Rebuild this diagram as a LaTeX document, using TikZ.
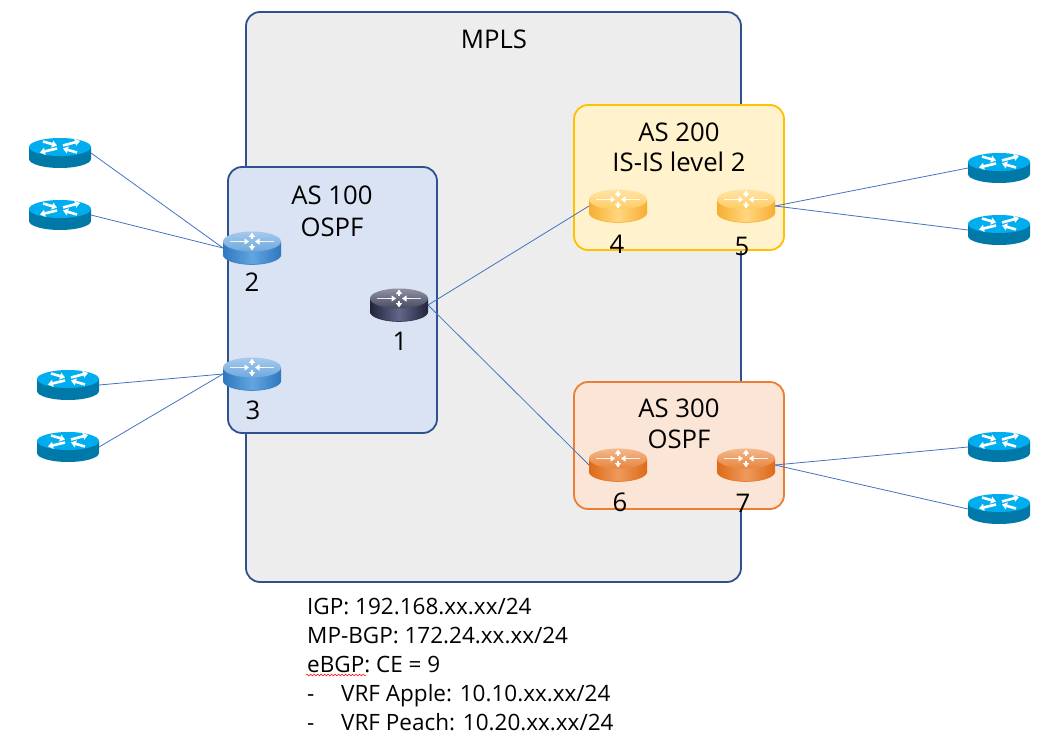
\documentclass[tikz,border=0pt]{standalone}
\usepackage{fontspec}
\setmainfont{Open Sans}
\usetikzlibrary{arrows.meta,decorations.pathmorphing}
\definecolor{frameblue}{HTML}{2F528F}
\definecolor{linkblue}{HTML}{4472C4}
\definecolor{mplsfill}{HTML}{EDEDED}
\definecolor{as100fill}{HTML}{DAE3F3}
\definecolor{as200fill}{HTML}{FFF2CC}
\definecolor{as200line}{HTML}{FFC000}
\definecolor{as300fill}{HTML}{FBE5D6}
\definecolor{as300line}{HTML}{ED7D31}
\definecolor{ceside}{HTML}{0079A8}
\definecolor{cetop}{HTML}{00AEEF}
\definecolor{bluedark}{HTML}{2F78BE}
\definecolor{bluemid}{HTML}{62A5E0}
\definecolor{bluetop}{HTML}{6FA9DE}
\definecolor{bluelight}{HTML}{A5CAEC}
\definecolor{yeldark}{HTML}{F7AE30}
\definecolor{yelmid}{HTML}{FFD780}
\definecolor{yeltop}{HTML}{FFCB60}
\definecolor{yellight}{HTML}{FFE4A6}
\definecolor{ordark}{HTML}{DE6A18}
\definecolor{ormid}{HTML}{EE9A5C}
\definecolor{ortop}{HTML}{E9843C}
\definecolor{orlight}{HTML}{F3B88E}
\definecolor{dkdark}{HTML}{23243A}
\definecolor{dkmid}{HTML}{63658A}
\definecolor{dktop}{HTML}{464960}
\definecolor{dklight}{HTML}{8F91A3}
\tikzset{
  area/.style={rounded corners=14pt,line width=1.8pt,inner sep=0pt,outer sep=0pt},
  link/.style={draw=linkblue,line width=0.8pt},
  label/.style={inner sep=0pt,font=\fontsize{25.7}{30}\selectfont,text=black},
  listline/.style={inner sep=0pt,anchor=base west,font=\fontsize{22.5}{27}\selectfont,text=black},
  routerbox/.style={minimum width=58pt,minimum height=33pt,inner sep=0pt,outer sep=0pt},
  cebox/.style={minimum width=62pt,minimum height=30pt,inner sep=0pt,outer sep=0pt},
  glyph/.style={draw=white,line width=1.3pt,-{Triangle[length=4.5pt,width=6pt]}},
  ceglyph/.style={draw=white,line width=2.6pt,-{Triangle[length=5pt,width=7pt]}},
}
% name, x, y, dark side, mid side, top colour, light top colour
\newcommand{\routersym}[7]{%
  \node[routerbox] (#1) at (#2,#3) {};
  \begin{scope}[shift={(#2,#3)}]
    \shade[left color=#4,right color=#4,middle color=#5]
      (-29,-6.5) -- (-29,6.5) arc[start angle=180,end angle=360,x radius=29pt,y radius=10pt] -- (29,-6.5) -- cycle;
    \shade[top color=#7,bottom color=#6] (0,-6.5) ellipse[x radius=29pt,y radius=10pt];
    \draw[white,line width=0.8pt,opacity=.85] (-22,-6.5) -- (-9,-6.5) (9,-6.5) -- (22,-6.5);
    \draw[glyph] (-12,-6.5) -- (-3,-6.5);
    \draw[glyph] (12,-6.5) -- (3,-6.5);
    \draw[glyph] (0,-9) -- (0,-15.5);
    \draw[glyph] (0,-4) -- (0,2.5);
    \draw[#4,line width=0.6pt,opacity=.8] (-29,6.5) arc[start angle=180,end angle=360,x radius=29pt,y radius=10pt];
  \end{scope}}
\newcommand{\cesym}[3]{%
  \node[cebox] (#1) at (#2,#3) {};
  \begin{scope}[shift={(#2,#3)}]
    \fill[ceside]
      (-31,-6) -- (-31,6) arc[start angle=180,end angle=360,x radius=31pt,y radius=9pt] -- (31,-6) -- cycle;
    \fill[cetop] (0,-6) ellipse[x radius=31pt,y radius=9pt];
    \draw[ceglyph] (-17,-11.5) -- (-3,-7.5);
    \draw[ceglyph] (3,-7.5) -- (20,-12);
    \draw[ceglyph] (-3,-4.5) -- (-20,-0.5);
    \draw[ceglyph] (17,-0.5) -- (3,-4.5);
  \end{scope}}
\begin{document}
\begin{tikzpicture}[x=1pt,y=-1pt]
\useasboundingbox (0,0) rectangle (1051,741);
% areas
\node[area,draw=frameblue,fill=mplsfill,minimum width=495pt,minimum height=570pt] (mplsbox) at (493.5,297) {};
\node[area,draw=frameblue,fill=as100fill,minimum width=209pt,minimum height=266pt] (as100box) at (332.5,300) {};
\node[area,draw=as200line,fill=as200fill,minimum width=210pt,minimum height=145pt] (as200box) at (679,177.5) {};
\node[area,draw=as300line,fill=as300fill,minimum width=210pt,minimum height=127pt] (as300box) at (679,445.5) {};
% routers
\routersym{r1}{399}{305}{dkdark}{dkmid}{dktop}{dklight}
\routersym{r2}{252}{248}{bluedark}{bluemid}{bluetop}{bluelight}
\routersym{r3}{252}{374}{bluedark}{bluemid}{bluetop}{bluelight}
\routersym{r4}{618}{206}{yeldark}{yelmid}{yeltop}{yellight}
\routersym{r5}{746}{206}{yeldark}{yelmid}{yeltop}{yellight}
\routersym{r6}{618}{465}{ordark}{ormid}{ortop}{orlight}
\routersym{r7}{746}{465}{ordark}{ormid}{ortop}{orlight}
\cesym{ce1}{60}{153}
\cesym{ce2}{60}{215}
\cesym{ce3}{68}{385}
\cesym{ce4}{68}{447}
\cesym{ce5}{999}{168}
\cesym{ce6}{999}{230}
\cesym{ce7}{999}{447}
\cesym{ce8}{999}{509}
% links
\draw[link] (ce1.east) -- (r2.west);
\draw[link] (ce2.east) -- (r2.west);
\draw[link] (ce3.east) -- (r3.west);
\draw[link] (ce4.east) -- (r3.west);
\draw[link] (r1.east) -- (r4.west);
\draw[link] (r1.east) -- (r6.west);
\draw[link] (r5.east) -- (ce5.west);
\draw[link] (r5.east) -- (ce6.west);
\draw[link] (r7.east) -- (ce7.west);
\draw[link] (r7.east) -- (ce8.west);
% labels
\node[label] (tmpls) at (494,39) {MPLS};
\node[label] (t100a) at (332,195) {AS 100};
\node[label] (t100b) at (332,227) {OSPF};
\node[label] (t200a) at (679,132) {AS 200};
\node[label] (t200b) at (679,162) {IS-IS level 2};
\node[label] (t300a) at (679,408) {AS 300};
\node[label] (t300b) at (679,439) {OSPF};
\node[label] (n1) at (400,341) {1};
\node[label] (n2) at (252,282) {2};
\node[label] (n3) at (253,410) {3};
\node[label] (n4) at (617,244) {4};
\node[label] (n5) at (742,246) {5};
\node[label] (n6) at (620,502) {6};
\node[label] (n7) at (743,503) {7};
% list
\node[listline] (l1) at (307,614) {IGP: 192.168.xx.xx/24};
\node[listline] (l2) at (307,643) {MP-BGP: 172.24.xx.xx/24};
\node[listline] (l3) at (307,672) {eBGP: CE = 9};
\node[listline] (l4) at (307,701) {-};
\node[listline] (l4b) at (341,701) {VRF Apple: 10.10.xx.xx/24};
\node[listline] (l5) at (307,730) {-};
\node[listline] (l5b) at (341,730) {VRF Peach: 10.20.xx.xx/24};
\coordinate (w1) at (306,675);
\coordinate (w2) at (366,675);
\draw[red,line width=0.5pt,decorate,decoration={snake,amplitude=0.9pt,segment length=3.5pt}] (w1) -- (w2);
\end{tikzpicture}
\end{document}
